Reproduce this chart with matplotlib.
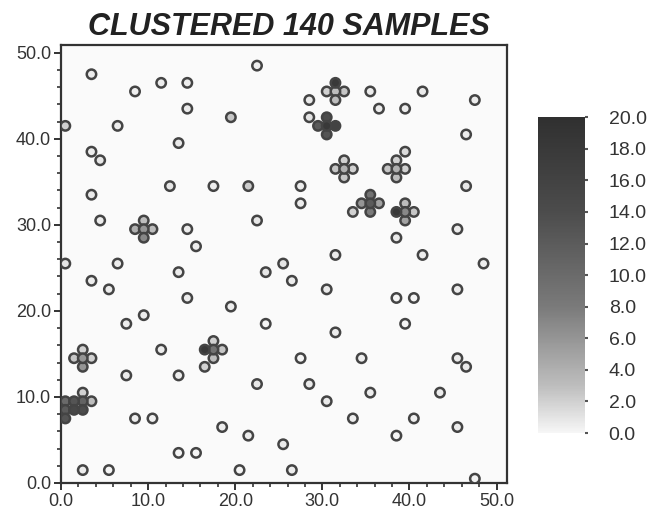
import numpy as np
import matplotlib
matplotlib.use('Agg')
import matplotlib.pyplot as plt
from matplotlib.colors import LinearSegmentedColormap, Normalize

plt.rcParams['font.family'] = ['Liberation Sans', 'DejaVu Sans']

# isolated samples
x_iso = [3.5, 8.5, 11.5, 14.5, 22.5, 14.5, 19.5, 0.5, 6.5, 13.5, 3.5, 4.5, 12.5, 17.5, 21.5, 3.5, 4.5, 14.5, 15.5, 22.5, 0.5, 6.5,
         28.5, 35.5, 41.5, 47.5, 36.5, 39.5, 28.5, 46.5, 27.5, 46.5, 27.5, 45.5, 38.5, 31.5, 41.5, 48.5, 25.5,
         13.5, 3.5, 5.5, 23.5, 14.5, 19.5, 9.5, 7.5, 23.5, 11.5, 7.5, 13.5, 22.5, 8.5, 10.5, 18.5, 21.5, 13.5, 15.5, 2.5, 5.5, 20.5,
         26.5, 30.5, 38.5, 40.5, 45.5, 39.5, 31.5, 27.5, 34.5, 45.5, 46.5, 28.5, 35.5, 43.5, 30.5, 33.5, 40.5, 45.5, 38.5, 25.5, 26.5, 47.5]
y_iso = [47.5, 45.5, 46.5, 46.5, 48.5, 43.5, 42.5, 41.5, 41.5, 39.5, 38.5, 37.5, 34.5, 34.5, 34.5, 33.5, 30.5, 29.5, 27.5, 30.5, 25.5, 25.5,
         44.5, 45.5, 45.5, 44.5, 43.5, 43.5, 42.5, 40.5, 34.5, 34.5, 32.5, 29.5, 28.5, 26.5, 26.5, 25.5, 25.5,
         24.5, 23.5, 22.5, 24.5, 21.5, 20.5, 19.5, 18.5, 18.5, 15.5, 12.5, 12.5, 11.5, 7.5, 7.5, 6.5, 5.5, 3.5, 3.5, 1.5, 1.5, 1.5,
         23.5, 22.5, 21.5, 21.5, 22.5, 18.5, 17.5, 14.5, 14.5, 14.5, 13.5, 11.5, 10.5, 10.5, 9.5, 7.5, 7.5, 6.5, 5.5, 4.5, 1.5, 0.5]
v_iso = [0.6, 0.4, 0.5, 0.5, 0.4, 0.6, 2.5, 2.0, 0.5, 0.7, 0.5, 0.8, 0.9, 0.6, 2.2, 0.7, 0.6, 0.5, 0.5, 0.8, 0.9, 0.5,
         0.7, 0.6, 0.7, 0.6, 0.5, 0.5, 1.0, 0.6, 0.5, 0.8, 0.5, 0.5, 0.7, 0.6, 0.6, 0.5, 1.0,
         0.6, 0.5, 0.6, 0.9, 0.5, 0.5, 0.5, 0.6, 0.2, 0.6, 0.6, 0.5, 0.8, 0.4, 0.4, 0.5, 0.5, 0.1, 0.1, 0.6, 0.1, 0.1,
         0.6, 0.7, 0.1, 0.1, 0.6, 0.1, 0.6, 0.1, 0.5, 0.6, 0.7, 0.7, 0.5, 0.6, 0.7, 0.5, 0.4, 0.5, 0.1, 0.7, 0.5, 0.3]

# clustered samples
x_clu = [2.5, 2.5, 1.5, 3.5, 2.5, 1.5, 0.5, 0.5, 0.5,          # near (2.5, 9.5)
         2.5, 2.5, 1.5, 3.5, 2.5,                            # (2.5, 14.5)
         17.5, 17.5, 16.5, 18.5, 17.5, 16.5,                 # (17.5, 15.5)
         9.5, 9.5, 8.5, 10.5, 9.5,                           # (9.5, 29.5)
         31.5, 31.5, 30.5, 32.5, 31.5,                       # (31.5, 45.5)
         30.5, 30.5, 29.5, 31.5, 30.5,                       # (30.5, 41.5)
         32.5, 32.5, 31.5, 33.5, 32.5,                       # (32.5, 36.5)
         38.5, 38.5, 37.5, 39.5, 38.5, 39.5,                 # (38.5, 36.5)
         35.5, 35.5, 34.5, 36.5, 35.5, 33.5,                 # (35.5, 32.5)
         39.5, 39.5, 38.5, 40.5, 39.5]                       # (39.5, 31.5)
y_clu = [9.5, 10.5, 9.5, 9.5, 8.5, 8.5, 8.5, 7.5, 9.5,
         14.5, 15.5, 14.5, 14.5, 13.5,
         15.5, 16.5, 15.5, 15.5, 14.5, 13.5,
         29.5, 30.5, 29.5, 29.5, 28.5,
         45.5, 46.5, 45.5, 45.5, 44.5,
         41.5, 42.5, 41.5, 41.5, 40.5,
         36.5, 37.5, 36.5, 36.5, 35.5,
         36.5, 37.5, 36.5, 36.5, 35.5, 38.5,
         32.5, 33.5, 32.5, 32.5, 31.5, 31.5,
         31.5, 32.5, 31.5, 31.5, 30.5]
v_clu = [11.0, 2.0, 13.0, 3.0, 14.0, 15.0, 12.0, 13.0, 10.0,
         6.0, 2.0, 2.5, 2.0, 6.0,
         9.0, 2.0, 18.0, 2.5, 3.0, 2.0,
         6.0, 3.0, 4.0, 3.0, 7.0,
         3.0, 18.0, 2.0, 2.5, 3.0,
         18.0, 14.0, 12.0, 16.0, 13.0,
         4.0, 2.0, 2.5, 2.0, 2.5,
         4.0, 2.0, 2.5, 2.0, 3.0, 1.5,
         12.0, 9.0, 6.0, 5.0, 8.0, 2.0,
         7.0, 3.0, 18.0, 2.5, 5.0]

x = np.array(x_iso + x_clu)
y = np.array(y_iso + y_clu)
v = np.array(v_iso + v_clu)
order = np.argsort(v)

cmap = LinearSegmentedColormap.from_list(
    'grey', [(0.0, '#f6f6f6'), (0.15, '#bdbdbd'), (0.4, '#7a7a7a'), (0.7, '#4c4c4c'), (1.0, '#303030')])
norm = Normalize(0, 20)

fig = plt.figure(figsize=(6.57, 5.23), dpi=100)
ax = fig.add_axes([0.0928, 0.0765, 0.679, 0.8375])
ax.scatter(x[order], y[order], c=v[order], cmap=cmap, norm=norm, s=46,
           edgecolors='#444444', linewidths=1.8, zorder=3, clip_on=True)

ax.set_xlim(0, 51.2)
ax.set_ylim(0, 50.9)
ax.set_xticks(np.arange(0, 51, 10))
ax.set_yticks(np.arange(0, 51, 10))
ax.set_xticks(np.arange(0, 51, 2), minor=True)
ax.set_yticks(np.arange(0, 51, 2), minor=True)
ax.set_xticklabels(['%.1f' % t for t in np.arange(0, 51, 10)])
ax.set_yticklabels(['%.1f' % t for t in np.arange(0, 51, 10)])
ax.tick_params(which='major', direction='out', length=5, width=1.4, colors='#333333', labelsize=13, pad=2)
ax.tick_params(which='minor', direction='out', length=3, width=1.2, colors='#333333')
for s in ax.spines.values():
    s.set_linewidth(1.6)
    s.set_color('#333333')
ax.set_facecolor('#fafafa')

fig.text(0.44, 0.949, 'CLUSTERED 140 SAMPLES', fontsize=22, fontweight='bold', fontstyle='italic',
         ha='center', va='center', color='#222222')

cax = fig.add_axes([0.819, 0.172, 0.0715, 0.604])
sm = plt.cm.ScalarMappable(norm=norm, cmap=cmap)
cb = fig.colorbar(sm, cax=cax)
cb.outline.set_visible(False)
cb.set_ticks(np.arange(0, 21, 2))
cb.set_ticklabels(['%.1f' % t for t in np.arange(0, 21, 2)])
cax.tick_params(length=2, width=1.5, colors='#555555', labelsize=14, pad=15)
for lab in cax.get_yticklabels():
    lab.set_color('#333333')

fig.savefig('out.png', dpi=100)
